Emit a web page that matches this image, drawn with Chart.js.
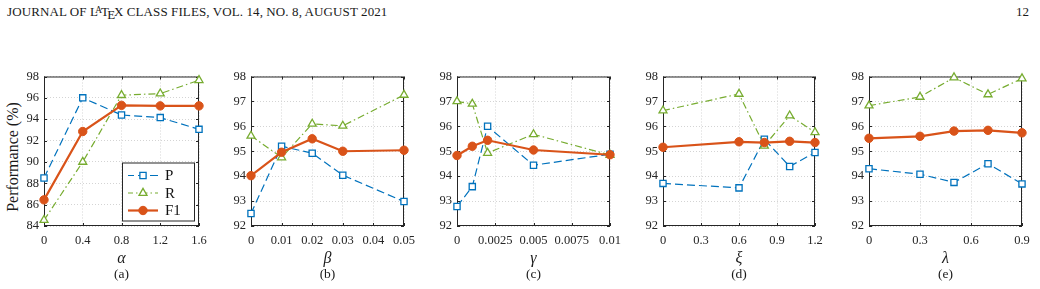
<!DOCTYPE html>
<html>
<head>
<meta charset="utf-8">
<script src="https://cdn.jsdelivr.net/npm/chart.js@4.4.0/dist/chart.umd.min.js"></script>
<style>
body{margin:0;background:#fff;width:1040px;height:289px;position:relative;overflow:hidden;font-family:"Liberation Serif","DejaVu Serif",serif;color:#1a1a1a}
canvas{position:absolute;top:64px}
.lbl{position:absolute;white-space:nowrap;line-height:1}
.hdr{position:absolute;top:5px;font-size:13px;letter-spacing:0.1px;line-height:1;white-space:nowrap}
.sym{font-style:italic;font-size:16px}
.cap{font-size:13.5px}
.ylab{font-size:16px}
</style>
</head>
<body>
<div class="hdr" style="left:7px">JOURNAL OF L<span style="font-size:0.72em;vertical-align:0.3em;margin-left:-0.3em;margin-right:-0.12em">A</span>T<span style="vertical-align:-0.45ex;margin-left:-0.14em;margin-right:-0.1em">E</span>X CLASS FILES, VOL. 14, NO. 8, AUGUST 2021</div>
<div class="hdr" style="left:1016px">12</div>
<div class="lbl ylab" style="left:13px;top:157px;transform:translate(-50%,-50%) rotate(-90deg)">Performance (%)</div>

<canvas id="pa" width="215" height="188"></canvas>
<canvas id="pb" width="213" height="188"></canvas>
<canvas id="pc" width="213" height="188"></canvas>
<canvas id="pd" width="212" height="188"></canvas>
<canvas id="pe" width="213" height="188"></canvas>

<script>
// series names
var seriesNames = ["P", "R", "F1"];

// (a) alpha
var alphaX = [0, 0.4, 0.8, 1.2, 1.6];
var alphaP = [88.5, 96.0, 94.4, 94.15, 93.05];
var alphaR = [84.55, 90.0, 96.25, 96.4, 97.65];
var alphaF1 = [86.45, 92.85, 95.3, 95.25, 95.25];
var alphaTicks = [0, 0.4, 0.8, 1.2, 1.6];
var alphaTickLabels = ["0", "0.4", "0.8", "1.2", "1.6"];

// (b) beta
var betaX = [0, 0.01, 0.02, 0.03, 0.05];
var betaP = [92.5, 95.2, 94.92, 94.04, 92.98];
var betaR = [95.62, 94.75, 96.1, 96.02, 97.26];
var betaF1 = [94.02, 94.96, 95.5, 95.0, 95.04];
var betaTicks = [0, 0.01, 0.02, 0.03, 0.04, 0.05];
var betaTickLabels = ["0", "0.01", "0.02", "0.03", "0.04", "0.05"];

// (c) gamma
var gammaX = [0, 0.001, 0.002, 0.005, 0.01];
var gammaP = [92.78, 93.58, 96.0, 94.44, 94.88];
var gammaR = [97.0, 96.9, 94.93, 95.68, 94.85];
var gammaF1 = [94.83, 95.2, 95.44, 95.05, 94.86];
var gammaTicks = [0, 0.0025, 0.005, 0.0075, 0.01];
var gammaTickLabels = ["0", "0.0025", "0.005", "0.0075", "0.01"];

// (d) xi
var xiX = [0, 0.6, 0.8, 1.0, 1.2];
var xiP = [93.71, 93.53, 95.48, 94.39, 94.95];
var xiR = [96.63, 97.3, 95.22, 96.43, 95.76];
var xiF1 = [95.16, 95.38, 95.35, 95.4, 95.35];
var xiTicks = [0, 0.3, 0.6, 0.9, 1.2];
var xiTickLabels = ["0", "0.3", "0.6", "0.9", "1.2"];

// (e) lambda
var lambdaX = [0, 0.3, 0.5, 0.7, 0.9];
var lambdaP = [94.3, 94.08, 93.75, 94.5, 93.69];
var lambdaR = [96.83, 97.18, 97.96, 97.28, 97.92];
var lambdaF1 = [95.52, 95.6, 95.81, 95.84, 95.74];
var lambdaTicks = [0, 0.3, 0.6, 0.9];
var lambdaTickLabels = ["0", "0.3", "0.6", "0.9"];

var yTicksA = [84, 86, 88, 90, 92, 94, 96, 98];
var yTicksRest = [92, 93, 94, 95, 96, 97, 98];

var blue = "#0072BD", green = "#77AC30", red = "#D95319", axisColor = "#262626";
var tickFont = {family: "Liberation Serif", size: 12.5};

function toPoints(xs, ys){
  return xs.map(function(x, i){ return {x: x, y: ys[i]}; });
}

// box around plot area with inward ticks
var boxPlugin = {
  id: "boxTicks",
  beforeDatasetsDraw: function(chart){
    var ctx = chart.ctx, a = chart.chartArea, xs = chart.scales.x, ys = chart.scales.y;
    ctx.save();
    ctx.strokeStyle = axisColor;
    ctx.lineWidth = 1;
    ctx.beginPath();
    xs.ticks.forEach(function(t){
      var px = Math.round(xs.getPixelForValue(t.value)) + 0.5;
      ctx.moveTo(px, a.bottom); ctx.lineTo(px, a.bottom - 3);
      ctx.moveTo(px, a.top); ctx.lineTo(px, a.top + 3);
    });
    ys.ticks.forEach(function(t){
      var py = Math.round(ys.getPixelForValue(t.value)) + 0.5;
      ctx.moveTo(a.left, py); ctx.lineTo(a.left + 3, py);
      ctx.moveTo(a.right, py); ctx.lineTo(a.right - 3, py);
    });
    ctx.stroke();
    ctx.strokeRect(a.left + 0.5, a.top + 0.5, a.right - a.left - 1, a.bottom - a.top - 1);
    ctx.restore();
  }
};

// legend box for panel (a), drawn with each dataset's own style
var legendPlugin = {
  id: "boxLegend",
  afterDraw: function(chart){
    if(!chart.options.plugins.boxLegend || !chart.options.plugins.boxLegend.show) return;
    var ctx = chart.ctx, a = chart.chartArea;
    var x0 = a.left + 78, y0 = a.top + 86, w = 72, h = 58;
    ctx.save();
    ctx.fillStyle = "#fff";
    ctx.fillRect(x0, y0, w, h);
    ctx.strokeStyle = axisColor;
    ctx.lineWidth = 1;
    ctx.strokeRect(x0 + 0.5, y0 + 0.5, w, h);
    var rows = [13, 30.5, 48];
    [0, 1, 2].forEach(function(di, k){
      var ds = chart.data.datasets[di];
      var y = y0 + rows[k];
      ctx.save();
      ctx.strokeStyle = ds.borderColor;
      ctx.lineWidth = ds.borderWidth;
      ctx.setLineDash(ds.borderDash || []);
      ctx.lineDashOffset = 2;
      ctx.beginPath();
      ctx.moveTo(x0 + 6, y); ctx.lineTo(x0 + 36, y);
      ctx.stroke();
      ctx.restore();
      ctx.save();
      ctx.strokeStyle = ds.pointBorderColor;
      ctx.fillStyle = ds.pointBackgroundColor;
      ctx.lineWidth = ds.pointBorderWidth;
      Chart.helpers.drawPoint(ctx, {pointStyle: ds.pointStyle, radius: ds.pointRadius, rotation: 0, borderWidth: ds.pointBorderWidth}, x0 + 21, y);
      ctx.restore();
      ctx.fillStyle = "#111";
      ctx.font = "15px 'Liberation Serif'";
      ctx.textBaseline = "middle";
      ctx.fillText(seriesNames[di], x0 + 43, y + 1);
    });
    ctx.restore();
  }
};

function makePanel(id, left, width, xVals, pVals, rVals, f1Vals, xTicks, xLabels, yTicks, showLegend){
  var canvas = document.getElementById(id);
  canvas.style.left = (left - 40) + "px";
  canvas.width = 40 + width + 20;
  new Chart(canvas, {
    type: "line",
    data: {
      datasets: [
        {
          label: seriesNames[0],
          data: toPoints(xVals, pVals),
          borderColor: blue,
          borderWidth: 1.2,
          borderDash: [8, 4],
          pointStyle: "rect",
          pointRadius: 4.4,
          pointBorderWidth: 1.3,
          pointBorderColor: blue,
          pointBackgroundColor: "#fff",
          order: 2,
          clip: false
        },
        {
          label: seriesNames[1],
          data: toPoints(xVals, rVals),
          borderColor: green,
          borderWidth: 1.2,
          borderDash: [7, 3, 1.5, 3],
          pointStyle: "triangle",
          pointRadius: 4.6,
          pointBorderWidth: 1.3,
          pointBorderColor: green,
          pointBackgroundColor: "#fff",
          order: 1,
          clip: false
        },
        {
          label: seriesNames[2],
          data: toPoints(xVals, f1Vals),
          borderColor: red,
          borderWidth: 2.2,
          pointStyle: "circle",
          pointRadius: 4.2,
          pointBorderWidth: 1,
          pointBorderColor: red,
          pointBackgroundColor: red,
          order: 0,
          clip: false
        }
      ]
    },
    options: {
      responsive: false,
      animation: false,
      layout: { padding: { top: 10, right: 20, left: 0, bottom: 0 } },
      plugins: {
        legend: { display: false },
        tooltip: { enabled: false },
        boxLegend: { show: showLegend }
      },
      elements: { line: { tension: 0 } },
      scales: {
        x: {
          type: "linear",
          min: xTicks[0],
          max: xTicks[xTicks.length - 1],
          afterBuildTicks: function(s){ s.ticks = xTicks.map(function(v){ return {value: v}; }); },
          afterFit: function(s){ s.height = 26; },
          grid: { color: "#d4d4d4", drawTicks: false },
          border: { display: false, dash: [1, 2] },
          ticks: {
            color: axisColor, font: tickFont, padding: 7, maxRotation: 0, autoSkip: false,
            callback: function(v, i){ return xLabels[i]; }
          }
        },
        y: {
          type: "linear",
          min: yTicks[0],
          max: yTicks[yTicks.length - 1],
          afterBuildTicks: function(s){ s.ticks = yTicks.map(function(v){ return {value: v}; }); },
          afterFit: function(s){ s.width = 40; },
          grid: { color: "#d4d4d4", drawTicks: false },
          border: { display: false, dash: [1, 2] },
          ticks: {
            color: axisColor, font: tickFont, padding: 5, autoSkip: false,
            callback: function(v){ return String(v); }
          }
        }
      }
    },
    plugins: [boxPlugin, legendPlugin]
  });

  var mid = left + width / 2;
  var names = {pa: "\u03b1", pb: "\u03b2", pc: "\u03b3", pd: "\u03be", pe: "\u03bb"};
  var caps = {pa: "(a)", pb: "(b)", pc: "(c)", pd: "(d)", pe: "(e)"};
  var s = document.createElement("div");
  s.className = "lbl sym";
  s.style.left = mid + "px"; s.style.top = "258px";
  s.style.transform = "translate(-50%,-50%)";
  s.textContent = names[id];
  document.body.appendChild(s);
  var c = document.createElement("div");
  c.className = "lbl cap";
  c.style.left = mid + "px"; c.style.top = "274px";
  c.style.transform = "translate(-50%,-50%)";
  c.textContent = caps[id];
  document.body.appendChild(c);
}

makePanel("pa", 44, 155, alphaX, alphaP, alphaR, alphaF1, alphaTicks, alphaTickLabels, yTicksA, true);
makePanel("pb", 251, 153, betaX, betaP, betaR, betaF1, betaTicks, betaTickLabels, yTicksRest, false);
makePanel("pc", 457, 153, gammaX, gammaP, gammaR, gammaF1, gammaTicks, gammaTickLabels, yTicksRest, false);
makePanel("pd", 663, 152, xiX, xiP, xiR, xiF1, xiTicks, xiTickLabels, yTicksRest, false);
makePanel("pe", 869, 153, lambdaX, lambdaP, lambdaR, lambdaF1, lambdaTicks, lambdaTickLabels, yTicksRest, false);
</script>
</body>
</html>
